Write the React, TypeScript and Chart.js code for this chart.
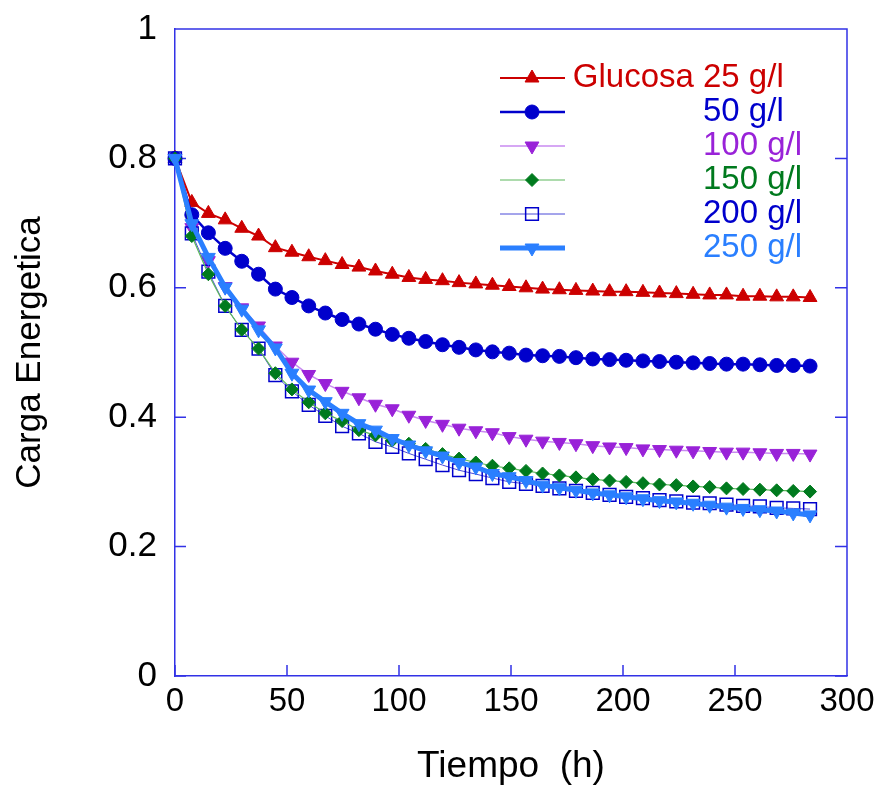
import { useEffect, useRef } from 'react';
import { Chart, registerables } from 'chart.js';
import { drawPoint } from 'chart.js/helpers';

Chart.register(...registerables);

// ---- data ----
const times = [
  0, 7.5, 14.9, 22.4, 29.8, 37.3, 44.8, 52.2, 59.7, 67.1, 74.6, 82.1, 89.5, 97,
  104.4, 111.9, 119.4, 126.8, 134.3, 141.7, 149.2, 156.7, 164.1, 171.6, 179,
  186.5, 194, 201.4, 208.9, 216.3, 223.8, 231.3, 238.7, 246.2, 253.6, 261.1,
  268.6, 276, 283.5,
];

const glucosa25 = [
  0.8, 0.732, 0.715, 0.705, 0.692, 0.68, 0.662, 0.655, 0.648, 0.642, 0.636,
  0.632, 0.626, 0.621, 0.616, 0.613, 0.611, 0.608, 0.606, 0.604, 0.602, 0.6,
  0.598, 0.597, 0.596, 0.595, 0.594, 0.594, 0.593, 0.592, 0.591, 0.59, 0.589,
  0.589, 0.587, 0.587, 0.586, 0.586, 0.585,
];

const glucosa50 = [
  0.8, 0.713, 0.685, 0.661, 0.641, 0.621, 0.598, 0.585, 0.572, 0.561, 0.551,
  0.544, 0.536, 0.528, 0.522, 0.517, 0.512, 0.508, 0.504, 0.501, 0.499, 0.496,
  0.495, 0.494, 0.492, 0.49, 0.489, 0.488, 0.487, 0.486, 0.485, 0.484, 0.483,
  0.482, 0.482, 0.481, 0.48, 0.48, 0.479,
];

const glucosa100 = [
  0.8, 0.693, 0.642, 0.602, 0.569, 0.541, 0.51, 0.485, 0.466, 0.452, 0.44,
  0.43, 0.42, 0.413, 0.403, 0.395, 0.389, 0.383, 0.379, 0.376, 0.37, 0.366,
  0.363, 0.361, 0.359, 0.356, 0.354, 0.353, 0.351, 0.35, 0.349, 0.348, 0.347,
  0.346, 0.346, 0.345, 0.344, 0.344, 0.343,
];

const glucosa150 = [
  0.8, 0.68, 0.621, 0.572, 0.535, 0.506, 0.468, 0.443, 0.423, 0.406, 0.394,
  0.38, 0.372, 0.364, 0.359, 0.351, 0.343, 0.336, 0.33, 0.325, 0.321, 0.317,
  0.313, 0.31, 0.307, 0.304, 0.302, 0.3, 0.298, 0.296, 0.295, 0.293, 0.292,
  0.29, 0.289, 0.288, 0.287, 0.286, 0.285,
];

const glucosa200 = [
  0.8, 0.684, 0.625, 0.572, 0.535, 0.506, 0.465, 0.44, 0.419, 0.402, 0.386,
  0.375, 0.362, 0.354, 0.344, 0.335, 0.326, 0.318, 0.312, 0.306, 0.3, 0.297,
  0.294, 0.29, 0.286, 0.283, 0.28, 0.277, 0.275, 0.272, 0.27, 0.268, 0.267,
  0.265, 0.263, 0.262, 0.26, 0.259, 0.258,
];

const glucosa250 = [
  0.8, 0.699, 0.647, 0.601, 0.567, 0.535, 0.507, 0.468, 0.442, 0.424, 0.406,
  0.39, 0.38, 0.367, 0.357, 0.348, 0.34, 0.33, 0.323, 0.313, 0.308, 0.302,
  0.295, 0.291, 0.287, 0.283, 0.28, 0.277, 0.274, 0.271, 0.269, 0.267, 0.264,
  0.261, 0.259, 0.257, 0.255, 0.252, 0.249,
];

const legendPrefix = 'Glucosa ';
const legendLabels = ['25 g/l', '50 g/l', '100 g/l', '150 g/l', '200 g/l', '250 g/l'];
const xTitle = 'Tiempo  (h)';
const yTitle = 'Carga Energetica';

// ---- style ----
const FONT = '"Liberation Sans", Arial, Helvetica, sans-serif';
const AXIS = '#3232e6';

const toPts = (ys: number[]) => times.map((t, i) => ({ x: t, y: ys[i] }));

const framePlugin = {
  id: 'frame',
  beforeDatasetsDraw(chart: any) {
    const { ctx, chartArea, scales } = chart;
    const { left, right, top, bottom } = chartArea;
    const x = scales.x;
    const y = scales.y;
    ctx.save();
    ctx.strokeStyle = AXIS;
    ctx.lineWidth = 1.5;
    ctx.beginPath();
    ctx.moveTo(left, top);
    ctx.lineTo(right, top);
    ctx.lineTo(right, bottom);
    x.ticks.forEach((t: any) => {
      const px = x.getPixelForValue(t.value);
      ctx.moveTo(px, bottom);
      ctx.lineTo(px, bottom - 11);
    });
    y.ticks.forEach((t: any) => {
      const py = y.getPixelForValue(t.value);
      ctx.moveTo(left, py);
      ctx.lineTo(left + 11, py);
      ctx.moveTo(right, py);
      ctx.lineTo(right - 12, py);
    });
    ctx.stroke();
    ctx.restore();
  },
};

const legendPlugin = {
  id: 'customLegend',
  afterDraw(chart: any) {
    const { ctx } = chart;
    const rowTop = 78;
    const rowStep = 34;
    const lineX0 = 500;
    const lineX1 = 565;
    const markX = 532;
    const textX = 703;
    ctx.save();
    chart.data.datasets.forEach((d: any, i: number) => {
      const yy = rowTop + i * rowStep;
      ctx.strokeStyle = d.borderColor;
      ctx.lineWidth = d.borderWidth;
      ctx.beginPath();
      ctx.moveTo(lineX0, yy);
      ctx.lineTo(lineX1, yy);
      ctx.stroke();
      ctx.fillStyle = d.pointBackgroundColor;
      ctx.strokeStyle = d.pointBorderColor;
      ctx.lineWidth = d.pointBorderWidth;
      drawPoint(
        ctx,
        {
          pointStyle: d.pointStyle,
          rotation: d.pointRotation || 0,
          radius: d.pointRadius,
          borderWidth: d.pointBorderWidth,
        } as any,
        markX,
        yy
      );
      ctx.font = `33px ${FONT}`;
      ctx.fillStyle = d.pointBorderColor;
      ctx.textBaseline = 'middle';
      ctx.textAlign = 'left';
      ctx.fillText(legendLabels[i], textX, yy);
      if (i === 0) {
        ctx.textAlign = 'right';
        ctx.fillText(legendPrefix, textX, yy);
      }
    });
    ctx.restore();
  },
};

export default function App() {
  const ref = useRef<HTMLCanvasElement | null>(null);

  useEffect(() => {
    document.body.style.margin = '0';
    const canvas = ref.current;
    if (!canvas) return;
    const common = { clip: false, tension: 0, pointHoverRadius: 0 } as any;
    const chart = new Chart(canvas, {
      type: 'line',
      data: {
        datasets: [
          {
            ...common,
            label: 'Glucosa 25 g/l',
            data: toPts(glucosa25),
            borderColor: '#cc0000',
            borderWidth: 2,
            pointStyle: 'triangle',
            pointRadius: 8,
            pointBorderWidth: 1,
            pointBorderColor: '#cc0000',
            pointBackgroundColor: '#cc0000',
            order: 5,
          },
          {
            ...common,
            label: '50 g/l',
            data: toPts(glucosa50),
            borderColor: '#0000cc',
            borderWidth: 2.5,
            pointStyle: 'circle',
            pointRadius: 7,
            pointBorderWidth: 1,
            pointBorderColor: '#0000cc',
            pointBackgroundColor: '#0000cc',
            order: 4,
          },
          {
            ...common,
            label: '100 g/l',
            data: toPts(glucosa100),
            borderColor: '#c88af0',
            borderWidth: 1.5,
            pointStyle: 'triangle',
            pointRotation: 180,
            pointRadius: 8,
            pointBorderWidth: 1,
            pointBorderColor: '#9922d8',
            pointBackgroundColor: '#9922d8',
            order: 3,
          },
          {
            ...common,
            label: '150 g/l',
            data: toPts(glucosa150),
            borderColor: '#5cb85c',
            borderWidth: 1.2,
            pointStyle: 'rectRot',
            pointRadius: 6.5,
            pointBorderWidth: 1,
            pointBorderColor: '#007a1e',
            pointBackgroundColor: '#007a1e',
            order: 1,
          },
          {
            ...common,
            label: '200 g/l',
            data: toPts(glucosa200),
            borderColor: '#4a4ad8',
            borderWidth: 1,
            pointStyle: 'rect',
            pointRadius: 9,
            pointBorderWidth: 1.5,
            pointBorderColor: '#0000cc',
            pointBackgroundColor: 'rgba(255,255,255,0)',
            order: 2,
          },
          {
            ...common,
            label: '250 g/l',
            data: toPts(glucosa250),
            borderColor: '#2a7fff',
            borderWidth: 5,
            pointStyle: 'triangle',
            pointRotation: 180,
            pointRadius: 8,
            pointBorderWidth: 1,
            pointBorderColor: '#2a7fff',
            pointBackgroundColor: '#2a7fff',
            order: 0,
          },
        ],
      },
      options: {
        animation: false,
        responsive: false,
        maintainAspectRatio: false,
        events: [],
        layout: { padding: { left: 0, right: 34, top: 29, bottom: 0 } },
        plugins: {
          legend: { display: false },
          tooltip: { enabled: false },
        },
        scales: {
          x: {
            type: 'linear',
            min: 0,
            max: 300,
            ticks: {
              stepSize: 50,
              padding: 6,
              color: '#000',
              font: { family: FONT, size: 33 },
              maxRotation: 0,
            },
            grid: { display: false, drawTicks: false },
            border: { display: true, color: AXIS, width: 1.5 },
            title: {
              display: true,
              text: xTitle,
              color: '#000',
              font: { family: FONT, size: 37 },
              padding: { top: 0, bottom: 1 },
            },
            afterFit: (s: any) => {
              s.height = 114;
              s.paddingLeft = 0;
              s.paddingRight = 0;
            },
          },
          y: {
            type: 'linear',
            min: 0,
            max: 1,
            ticks: {
              stepSize: 0.2,
              padding: 18,
              color: '#000',
              font: { family: FONT, size: 35 },
              callback: (v: any) => String(Math.round(Number(v) * 10) / 10),
            },
            grid: { display: false, drawTicks: false },
            border: { display: true, color: AXIS, width: 1.5 },
            title: {
              display: true,
              text: yTitle,
              color: '#000',
              font: { family: FONT, size: 35 },
              padding: { top: 9, bottom: 0 },
            },
            afterFit: (s: any) => {
              s.width = 175;
              s.paddingTop = 0;
              s.paddingBottom = 0;
            },
          },
        },
      },
      plugins: [framePlugin, legendPlugin],
    } as any);
    return () => chart.destroy();
  }, []);

  return (
    <div style={{ width: 881, height: 790, background: '#fff' }}>
      <canvas ref={ref} width={881} height={790} style={{ display: 'block' }} />
    </div>
  );
}
